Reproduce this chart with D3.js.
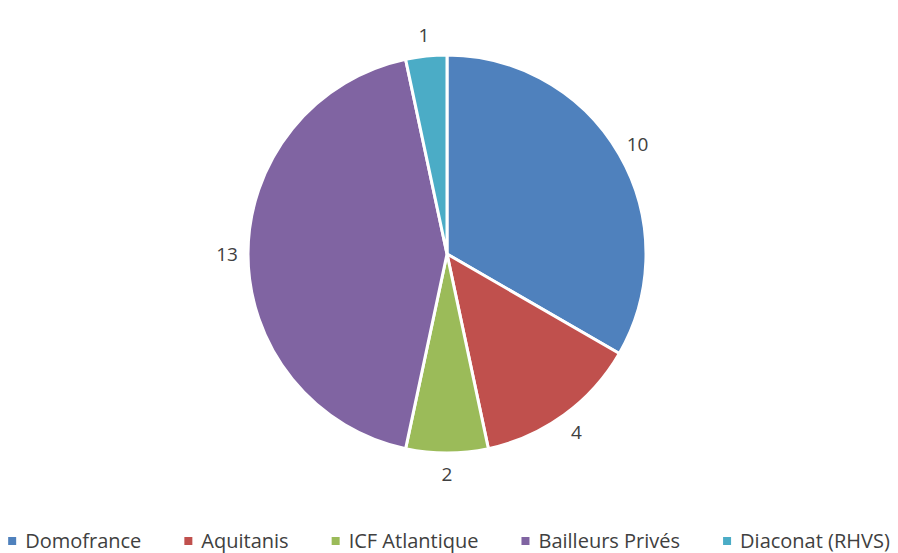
<!DOCTYPE html>
<html>
<head>
<meta charset="utf-8">
<script src="https://cdn.jsdelivr.net/npm/d3@7"></script>
<style>
  body { margin: 0; background: #fff; }
  svg { font-family: "Open Sans", "Noto Sans", sans-serif; }
</style>
</head>
<body>
<div id="chart"></div>
<script>
// chart data
const categories = ["Domofrance", "Aquitanis", "ICF Atlantique", "Bailleurs Privés", "Diaconat (RHVS)"];
const values = [10, 4, 2, 13, 1];
const colors = ["#4F81BD", "#C0504D", "#9BBB59", "#8064A2", "#4BACC6"];

const width = 898, height = 553;
const cx = 447, cy = 254, radius = 199;

const svg = d3.select("#chart")
    .append("svg")
    .attr("width", width)
    .attr("height", height);

const data = categories.map((c, i) => ({ name: c, value: values[i], color: colors[i] }));

const pie = d3.pie()
    .sort(null)
    .value(d => d.value);

const arc = d3.arc()
    .innerRadius(0)
    .outerRadius(radius);

const labelArc = d3.arc()
    .innerRadius(radius + 21)
    .outerRadius(radius + 21);

const g = svg.append("g")
    .attr("transform", "translate(" + cx + "," + cy + ")");

const arcs = pie(data);

g.selectAll("path")
    .data(arcs)
    .enter().append("path")
    .attr("d", arc)
    .attr("fill", d => d.data.color)
    .attr("stroke", "#fff")
    .attr("stroke-width", 3)
    .attr("stroke-linejoin", "round");

g.selectAll(".label")
    .data(arcs)
    .enter().append("text")
    .attr("class", "label")
    .attr("transform", d => "translate(" + labelArc.centroid(d) + ")")
    .attr("text-anchor", "middle")
    .attr("dy", "0.35em")
    .attr("font-size", 19)
    .attr("fill", "#404040")
    .text(d => d.data.value);

// legend
const legend = svg.append("g");
const items = legend.selectAll(".item")
    .data(data)
    .enter().append("g")
    .attr("class", "item");

items.append("rect")
    .attr("y", -4)
    .attr("width", 8)
    .attr("height", 8)
    .attr("fill", d => d.color);

items.append("text")
    .attr("x", 17)
    .attr("dy", "0.35em")
    .attr("font-size", 20)
    .attr("fill", "#404040")
    .text(d => d.name);

let x = 0;
items.each(function () {
    const w = d3.select(this).select("text").node().getComputedTextLength();
    d3.select(this).attr("transform", "translate(" + x + ",0)");
    x += 17 + w + 43;
});
const total = x - 43;
legend.attr("transform", "translate(" + ((width - total) / 2) + ",541)");
</script>
</body>
</html>
